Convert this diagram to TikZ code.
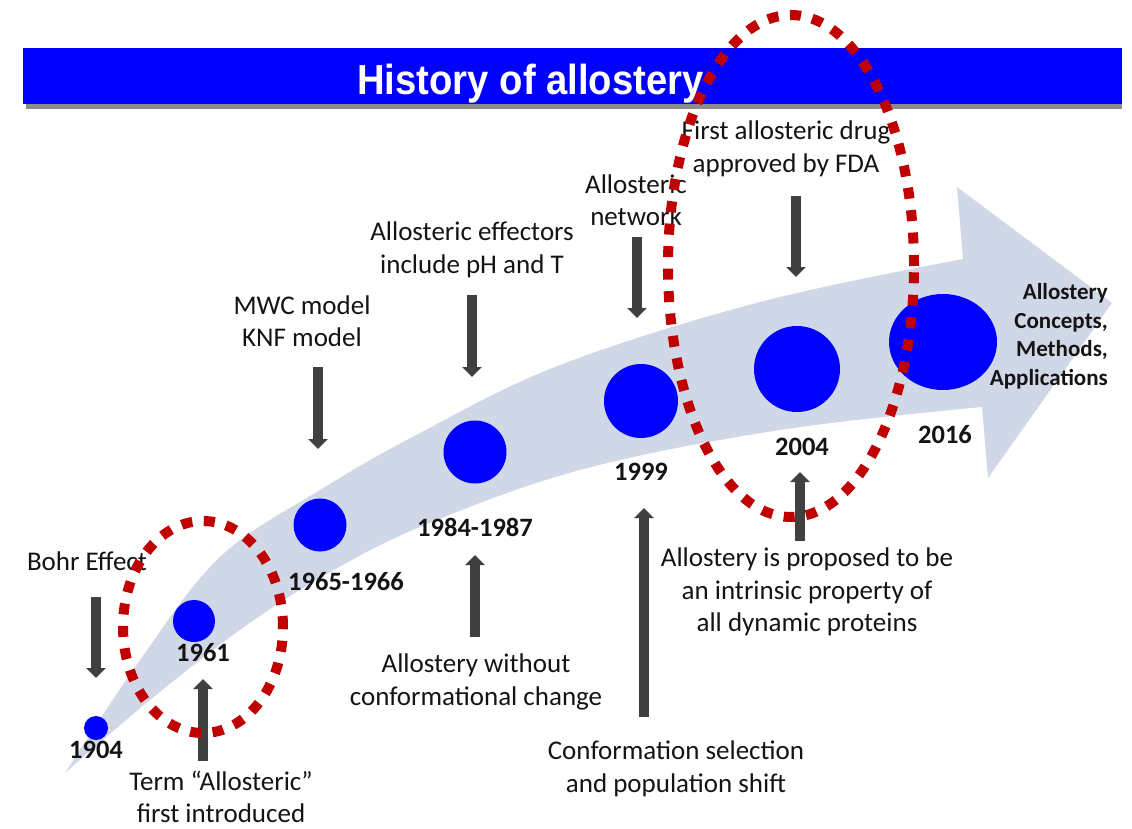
\documentclass[tikz,border=0pt]{standalone}
\usepackage{fontspec}
\setmainfont{Carlito}
\newfontfamily\headfont{Liberation Sans}
\usetikzlibrary{arrows.meta,shapes.geometric}
\definecolor{bandblue}{RGB}{208,216,232}
\definecolor{shaftgray}{RGB}{64,64,64}
\definecolor{ringred}{RGB}{192,0,0}
\definecolor{barblue}{RGB}{0,0,255}
\definecolor{inkgray}{RGB}{20,20,20}
\begin{document}
\begin{tikzpicture}[x=1pt,y=-1pt,
  lbl/.style={font=\fontsize{27}{32.5}\selectfont, align=center, inner sep=0pt, text=inkgray},
  yr/.style={font=\bfseries\fontsize{26.5}{30}\selectfont, inner sep=0pt, text=inkgray},
  dot/.style={circle, fill=barblue, inner sep=0pt},
  pointer/.style={draw=shaftgray, line width=9.5pt, -{Triangle[width=19pt,length=10pt]}},
  ring/.style={draw=ringred, line width=10pt, dash pattern=on 11pt off 11.5pt}]
\useasboundingbox (0,0) rectangle (1132,829);

% curved timeline arrow
\fill[bandblue] plot[smooth, tension=0.6] coordinates {(65,773) (140,660) (220,557) (320,490) (420,433) (560,365) (760,302) (963,259)}
  -- (957,187) -- (1112,303) -- (988,478) -- (982,407)
  -- plot[smooth, tension=0.6] coordinates {(982,407) (780,430) (580,470) (420,527) (320,578) (240,630) (150,700) (65,773)} -- cycle;

% title bar with its drop shadow
\fill[black!45] (26,104) rectangle (1122,109);
\node[fill=barblue, minimum width=1099pt, minimum height=56pt, inner sep=0pt, anchor=north west] (bar) at (23,48) {};
\node[text=white, font=\headfont\bfseries\fontsize{42}{42}\selectfont, xscale=0.91, anchor=base, inner sep=0pt] (title) at (530.5,95) {History of allostery};

% milestones
\node[dot, minimum size=24pt] (d1904) at (96,728) {};
\node[dot, minimum size=42pt] (d1961) at (194,621) {};
\node[dot, minimum size=53pt] (d1965) at (320,525) {};
\node[dot, minimum size=63pt] (d1984) at (475,452) {};
\node[dot, minimum size=74pt] (d1999) at (641,401) {};
\node[dot, minimum size=86pt] (d2004) at (797,369) {};
\node[ellipse, fill=barblue, inner sep=0pt, minimum width=108pt, minimum height=96pt] (d2016) at (943,342) {};

% years
\node[yr] (y1904) at (96,750) {1904};
\node[yr] (y1961) at (203,653) {1961};
\node[yr] (y1965) at (346,582) {1965-1966};
\node[yr] (y1984) at (475,527) {1984-1987};
\node[yr] (y1999) at (641,472) {1999};
\node[yr] (y2004) at (802,447) {2004};
\node[yr] (y2016) at (945,435) {2016};

\node[font=\bfseries\fontsize{23}{28.5}\selectfont, align=right, inner sep=0pt, anchor=east, text=inkgray] (goal) at (1108,336) {Allostery\\Concepts,\\Methods,\\Applications};

% event descriptions
\node[lbl] (bohr) at (87,561) {Bohr Effect};
\node[lbl] (term) at (221,797) {Term “Allosteric”\\first introduced};
\node[lbl] (mwc) at (302,321) {MWC model\\KNF model};
\node[lbl] (effect) at (472,250) {Allosteric effectors\\include pH and T};
\node[lbl] (net) at (636,200) {Allosteric\\network};
\node[lbl] (fda) at (786,149) {First allosteric drug\\approved by FDA};
\node[lbl] (intr) at (807,592) {Allostery is proposed to be\\an intrinsic property of\\all dynamic proteins};
\node[lbl] (nocc) at (476,682) {Allostery without\\conformational change};
\node[lbl] (csel) at (676,769) {Conformation selection\\and population shift};

% pointers
\coordinate (bohrA) at (96,597);   \coordinate (bohrB) at (96,678);
\coordinate (termA) at (203,761);  \coordinate (termB) at (203,679);
\coordinate (mwcA) at (318,367);   \coordinate (mwcB) at (318,449);
\coordinate (effA) at (472,295);   \coordinate (effB) at (472,377);
\coordinate (netA) at (637,237);   \coordinate (netB) at (637,318);
\coordinate (fdaA) at (796,196);   \coordinate (fdaB) at (796,277);
\coordinate (noccA) at (475,637);  \coordinate (noccB) at (475,555);
\coordinate (cselA) at (644,717);  \coordinate (cselB) at (644,508);
\coordinate (intrA) at (800,541);  \coordinate (intrB) at (800,472);
\draw[pointer] (bohrA) -- (bohrB);
\draw[pointer] (termA) -- (termB);
\draw[pointer] (mwcA) -- (mwcB);
\draw[pointer] (effA) -- (effB);
\draw[pointer] (netA) -- (netB);
\draw[pointer] (fdaA) -- (fdaB);
\draw[pointer] (noccA) -- (noccB);
\draw[pointer] (cselA) -- (cselB);
\draw[pointer] (intrA) -- (intrB);

% highlight rings
\draw[ring] (203,627) ellipse [x radius=80pt, y radius=106pt];
\draw[ring] (791,266) ellipse [x radius=123pt, y radius=251pt];
\end{tikzpicture}
\end{document}
